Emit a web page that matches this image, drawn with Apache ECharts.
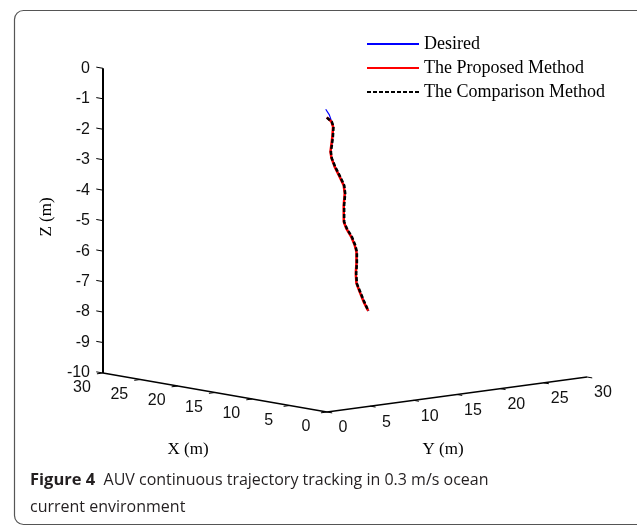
<!DOCTYPE html>
<html>
<head>
<meta charset="utf-8">
<script src="https://cdn.jsdelivr.net/npm/echarts@6/dist/echarts.min.js"></script>
<style>
  html, body { margin: 0; padding: 0; background: #fff; }
  #chart { width: 637px; height: 526px; }
</style>
</head>
<body>
<div id="chart"></div>
<script>
// tick values of the three 3D axes
var xTicks = [0, 5, 10, 15, 20, 25, 30]
var yTicks = [0, 5, 10, 15, 20, 25, 30]
var zTicks = [0, -1, -2, -3, -4, -5, -6, -7, -8, -9, -10]

// desired trajectory (m)
var desiredX = [0.17, 0, 0, 0, 0, 0, 0, 0, 0, 0, 0, 0, 0, 0, 0, 0, 0, 0, 0, 0, 0, 0, 0, 0]
var desiredY = [0, 0.27, 0.54, 0.73, 0.66, 0.54, 0.43, 0.54, 0.92, 1.50, 1.96, 2.08, 1.96, 1.96, 2.27, 2.85, 3.23, 3.43, 3.43, 3.35, 3.43, 3.81, 4.27, 4.77]
var desiredZ = [-0.07, -0.26, -0.49, -0.66, -0.99, -1.26, -1.47, -1.69, -1.98, -2.33, -2.63, -2.90, -3.28, -3.83, -4.06, -4.36, -4.64, -4.87, -5.25, -5.58, -5.91, -6.20, -6.54, -6.86]

// the proposed method
var proposedX = [0.04, 0, 0, 0, 0, 0, 0, 0, 0, 0, 0, 0, 0, 0, 0, 0, 0, 0, 0, 0, 0, 0, 0]
var proposedY = [0, 0.50, 0.70, 0.62, 0.50, 0.40, 0.52, 0.88, 1.45, 1.92, 2.05, 1.93, 1.94, 2.22, 2.80, 3.19, 3.40, 3.40, 3.32, 3.40, 3.77, 4.22, 4.75]
var proposedZ = [-0.33, -0.49, -0.66, -0.99, -1.26, -1.47, -1.69, -1.98, -2.33, -2.63, -2.90, -3.28, -3.83, -4.06, -4.36, -4.64, -4.87, -5.25, -5.58, -5.91, -6.20, -6.54, -6.86]

// the comparison method
var comparisonX = [0.04, 0, 0, 0, 0, 0, 0, 0, 0, 0, 0, 0, 0, 0, 0, 0, 0, 0, 0, 0, 0, 0, 0]
var comparisonY = [0.02, 0.56, 0.75, 0.68, 0.56, 0.45, 0.56, 0.95, 1.53, 1.99, 2.10, 1.98, 1.98, 2.30, 2.88, 3.26, 3.45, 3.45, 3.37, 3.45, 3.84, 4.30, 4.78]
var comparisonZ = [-0.34, -0.50, -0.67, -1.00, -1.27, -1.48, -1.70, -1.99, -2.34, -2.64, -2.91, -3.29, -3.84, -4.07, -4.37, -4.65, -4.88, -5.26, -5.59, -5.92, -6.21, -6.55, -6.87]

// view: where (0,0,-10) lands and how one metre along each axis moves on the page
var view = {
  origin: [327, 412],
  ex: [-224 / 30, -39 / 30],
  ey: [260 / 30, -35 / 30],
  ez: [0, -30.47]
}
var zMin = -10

function proj (x, y, z) {
  var dz = z - zMin
  return [
    view.origin[0] + x * view.ex[0] + y * view.ey[0] + dz * view.ez[0],
    view.origin[1] + x * view.ex[1] + y * view.ey[1] + dz * view.ez[1]
  ]
}

function path (xs, ys, zs) {
  return xs.map(function (v, i) { return proj(v, ys[i], zs[i]) })
}

var numFont = '16px "Liberation Sans", Arial, sans-serif'
var serif = '"Liberation Serif", "Times New Roman", serif'

function seg (api, a, b, w) {
  var p0 = api.coord(a)
  var p1 = api.coord(b)
  return { type: 'line', shape: { x1: p0[0], y1: p0[1], x2: p1[0], y2: p1[1] }, style: { stroke: '#000', lineWidth: w } }
}

function tickSeries (ticks, axis) {
  return {
    type: 'custom',
    silent: true,
    data: ticks.map(function (v) { return [v, 0] }),
    renderItem: function (params, api) {
      var v = api.value(0)
      var a, b, dx, dy, align
      if (axis === 'x') {
        a = proj(v, 0, zMin); b = proj(v, -0.7, zMin); dx = -21; dy = 15; align = 'center'
      } else if (axis === 'y') {
        a = proj(0, v, zMin); b = proj(-0.7, v, zMin); dx = 16; dy = 16; align = 'center'
      } else {
        a = proj(30, 0, v); b = proj(30.9, 0, v); dx = -13; dy = 0; align = 'right'
      }
      var p0 = api.coord(a)
      return {
        type: 'group',
        children: [
          seg(api, a, b, 1),
          { type: 'text', style: { text: String(v), x: p0[0] + dx, y: p0[1] + dy, align: align, verticalAlign: 'middle', font: numFont, fill: '#111' } }
        ]
      }
    }
  }
}

var chart = echarts.init(document.getElementById('chart'))
chart.setOption({
  animation: false,
  backgroundColor: '#fff',
  grid: { left: 0, right: 0, top: 0, bottom: 0 },
  xAxis: { type: 'value', min: 0, max: 637, show: false },
  yAxis: { type: 'value', min: 0, max: 526, inverse: true, show: false },
  legend: {
    orient: 'vertical',
    left: 361,
    top: 30,
    itemWidth: 52,
    itemHeight: 14,
    itemGap: 6,
    itemStyle: { opacity: 0 },
    textStyle: { fontFamily: serif, fontSize: 18, color: '#000' },
    data: ['Desired', 'The Proposed Method', 'The Comparison Method']
  },
  graphic: [
    {
      type: 'rect',
      shape: { x: 14.5, y: 10.5, width: 640, height: 514, r: 9 },
      style: { fill: 'none', stroke: '#555', lineWidth: 1.2 },
      silent: true
    },
    {
      type: 'text',
      left: 30,
      top: 467,
      style: {
        text: '{b|Figure 4}  AUV continuous trajectory tracking in 0.3 m/s ocean\ncurrent environment',
        font: '16px "Open Sans", sans-serif',
        fill: '#231f20',
        lineHeight: 27,
        rich: {
          b: { fontWeight: 'bold', fontSize: 16.5, fontFamily: '"Open Sans", sans-serif', fill: '#231f20', lineHeight: 27 }
        }
      }
    },
    { type: 'text', x: 188, y: 450, style: { text: 'X (m)', font: '17px ' + serif, fill: '#000', align: 'center', verticalAlign: 'middle' } },
    { type: 'text', x: 443, y: 450, style: { text: 'Y (m)', font: '17px ' + serif, fill: '#000', align: 'center', verticalAlign: 'middle' } },
    { type: 'text', x: 47, y: 217, rotation: Math.PI / 2, style: { text: 'Z (m)', font: '17px ' + serif, fill: '#000', align: 'center', verticalAlign: 'middle' } }
  ],
  series: [
    {
      // axis lines: z up the back corner, x and y along the floor
      type: 'custom',
      silent: true,
      data: [[0, 0]],
      renderItem: function (params, api) {
        return {
          type: 'group',
          children: [
            seg(api, proj(30, 0, 0), proj(30, 0, zMin), 2),
            seg(api, proj(30, 0, zMin), proj(0, 0, zMin), 1.3),
            seg(api, proj(0, 0, zMin), proj(0, 30, zMin), 1.3)
          ]
        }
      }
    },
    tickSeries(xTicks, 'x'),
    tickSeries(yTicks, 'y'),
    tickSeries(zTicks, 'z'),
    {
      name: 'Desired',
      type: 'line',
      symbol: 'none',
      data: path(desiredX, desiredY, desiredZ),
      lineStyle: { color: '#0000ff', width: 1.2 },
      itemStyle: { color: '#0000ff' }
    },
    {
      name: 'The Proposed Method',
      type: 'line',
      symbol: 'none',
      data: path(proposedX, proposedY, proposedZ),
      lineStyle: { color: '#ff0000', width: 2.5 },
      itemStyle: { color: '#ff0000' }
    },
    {
      name: 'The Comparison Method',
      type: 'line',
      symbol: 'none',
      data: path(comparisonX, comparisonY, comparisonZ),
      lineStyle: { color: '#000', width: 2.5, type: [4, 2] },
      itemStyle: { color: '#000' }
    }
  ]
})
</script>
</body>
</html>
